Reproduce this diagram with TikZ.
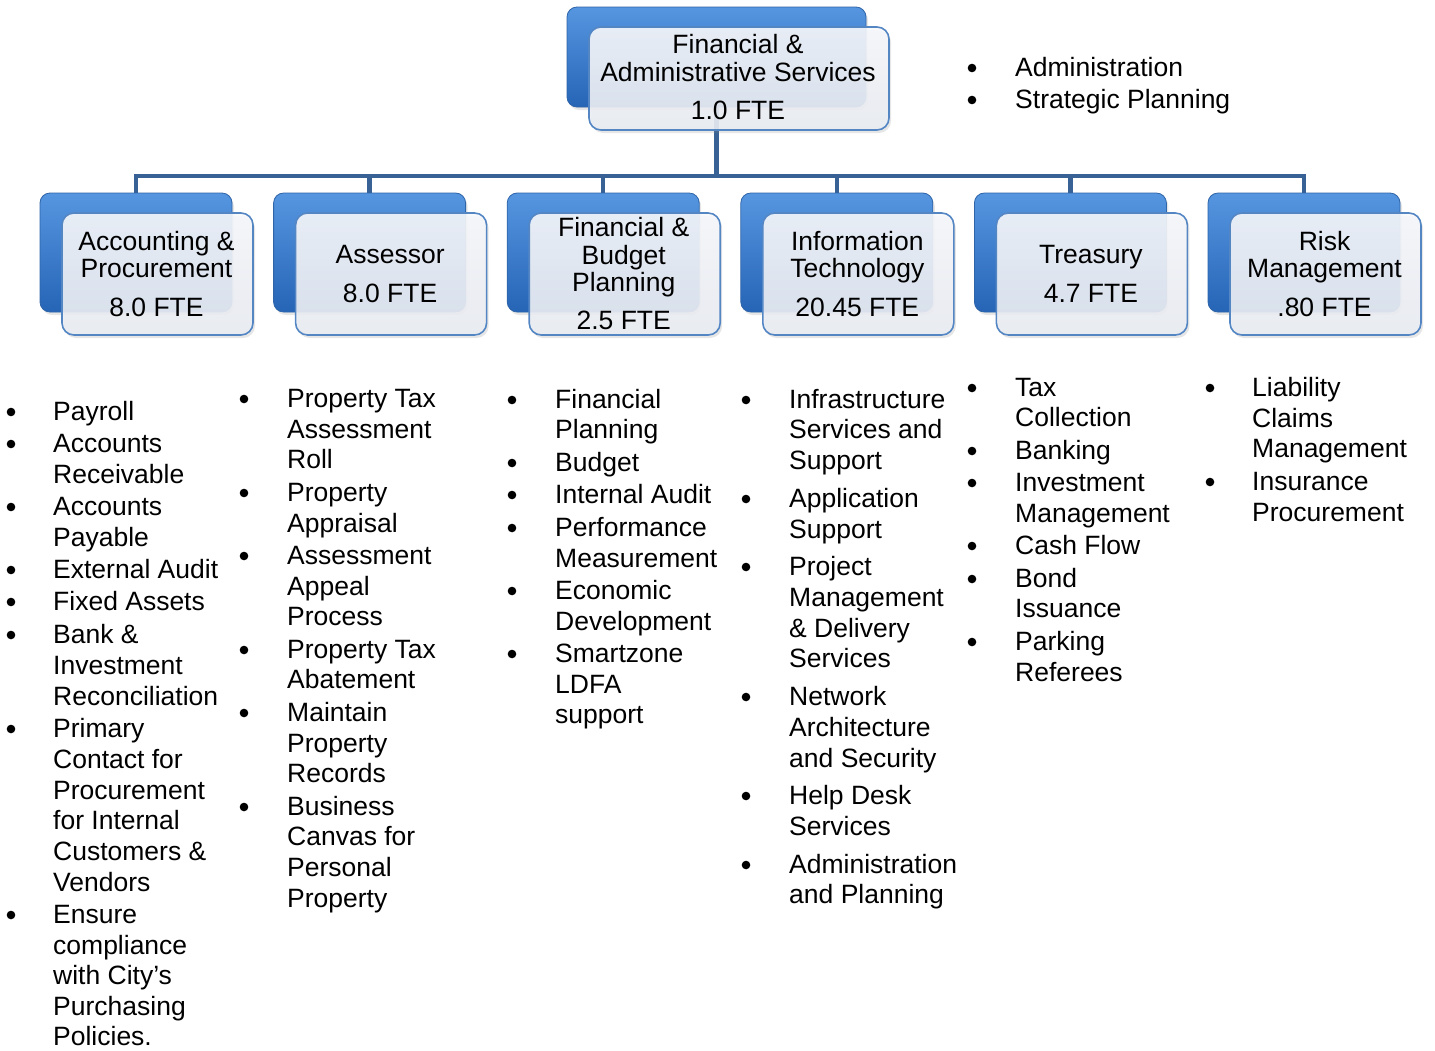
\documentclass[tikz,border=0pt]{standalone}
\usepackage{fontspec}
\setmainfont{Liberation Sans}
\usetikzlibrary{shadows,backgrounds}
\definecolor{conncol}{RGB}{56,98,150}
\definecolor{bluetop}{RGB}{86,150,224}
\definecolor{bluebot}{RGB}{38,100,182}
\definecolor{blueedge}{RGB}{46,100,168}
\definecolor{frontedge}{RGB}{84,134,196}
\definecolor{fronttop}{RGB}{247,248,251}
\definecolor{frontbot}{RGB}{233,236,242}
\newcommand{\orgunit}[2]{%
  \node[backbox,minimum width=192pt,minimum height=119pt] (b-#1) at (#2+96,252.5) {};
  \node[frontbox,minimum width=191pt,minimum height=122pt] (f-#1) at (#2+117.5,274) {};
}
\begin{document}
\begin{tikzpicture}[x=1pt,y=-1pt,
  conn/.style={draw=conncol,line width=4.5pt},
  backbox/.style={rectangle,rounded corners=10pt,inner sep=0pt,outer sep=0pt,
    top color=bluetop,bottom color=bluebot,draw=blueedge,line width=0.8pt,
    drop shadow={shadow xshift=2pt,shadow yshift=-3pt,opacity=0.2}},
  frontbox/.style={rectangle,rounded corners=12pt,inner sep=0pt,outer sep=0pt,
    top color=fronttop,bottom color=frontbot,fill opacity=0.9,draw=frontedge,draw opacity=1,line width=1.6pt,
    drop shadow={shadow xshift=2pt,shadow yshift=-3pt,opacity=0.2}},
  boxtxt/.style={anchor=base,inner sep=0pt,font=\fontsize{26.5}{27}\selectfont},
  li/.style={anchor=base west,inner sep=0pt,font=\fontsize{26.5}{31}\selectfont},
  bul/.style={fill=black},
]
\useasboundingbox (0,0) rectangle (1435,1050);

% top box
\node[backbox,minimum width=299pt,minimum height=100pt] (b-top) at (716.5,57) {};
\node[frontbox,minimum width=300pt,minimum height=103pt] (f-top) at (739,78.5) {};
\node[boxtxt] (t-top1) at (738,53.5) {Financial \&};
\node[boxtxt] (t-top2) at (738,81.5) {Administrative Services};
\node[boxtxt] (t-top3) at (738,119.5) {1.0 FTE};

% second row
\orgunit{acc}{40}
\orgunit{ass}{273.6}
\orgunit{fbp}{507.2}
\orgunit{it}{740.8}
\orgunit{tre}{974.4}
\orgunit{risk}{1208}

\node[boxtxt] (t-acc1) at (156.5,250.5) {Accounting \&};
\node[boxtxt] (t-acc2) at (156.5,277.5) {Procurement};
\node[boxtxt] (t-acc3) at (156.5,316.5) {8.0 FTE};

\node[boxtxt] (t-ass1) at (390.1,263.5) {Assessor};
\node[boxtxt] (t-ass2) at (390.1,302.5) {8.0 FTE};

\node[boxtxt] (t-fbp1) at (623.7,236.5) {Financial \&};
\node[boxtxt] (t-fbp2) at (623.7,264.5) {Budget};
\node[boxtxt] (t-fbp3) at (623.7,291.5) {Planning};
\node[boxtxt] (t-fbp4) at (623.7,329.5) {2.5 FTE};

\node[boxtxt] (t-it1) at (857.3,250.5) {Information};
\node[boxtxt] (t-it2) at (857.3,277.5) {Technology};
\node[boxtxt] (t-it3) at (857.3,316.5) {20.45 FTE};

\node[boxtxt] (t-tre1) at (1090.9,263.5) {Treasury};
\node[boxtxt] (t-tre2) at (1090.9,302.5) {4.7 FTE};

\node[boxtxt] (t-risk1) at (1324.5,250.5) {Risk};
\node[boxtxt] (t-risk2) at (1324.5,277.5) {Management};
\node[boxtxt] (t-risk3) at (1324.5,316.5) {.80 FTE};

% connectors
\coordinate (bar) at (0,176);
\begin{pgfonlayer}{background}
\foreach \n in {acc,ass,fbp,it,tre,risk}
  \draw[conn] (b-top.south) -- (b-top.south |- bar) -| (b-\n.north);
\end{pgfonlayer}

% top-right list
\foreach \y/\b/\t [count=\i] in {67/1/Administration, 99/1/Strategic Planning}{
  \node[li] (lt\i) at (1015,\y+9.5) {\t};
  \ifnum\b=1 \fill[bul] (972,\y+1) circle (4.3pt);\fi
}

% column 1
\foreach \y/\b/\t [count=\i] in {411/1/Payroll, 443/1/Accounts, 474/0/Receivable,
  506/1/Accounts, 537/0/Payable, 569/1/External Audit, 601/1/Fixed Assets,
  634/1/Bank \&, 665/0/Investment, 696/0/Reconciliation, 728/1/Primary,
  759/0/Contact for, 790/0/Procurement, 820/0/for Internal, 851/0/Customers \&,
  882/0/Vendors, 914/1/Ensure, 945/0/compliance, 975/0/with City’s,
  1006/0/Purchasing, 1036/0/Policies.}{
  \node[li] (la\i) at (53,\y+9.5) {\t};
  \ifnum\b=1 \fill[bul] (11,\y+1) circle (4.3pt);\fi
}

% column 2
\foreach \y/\b/\t [count=\i] in {398/1/Property Tax, 429/0/Assessment, 459/0/Roll,
  492/1/Property, 523/0/Appraisal, 555/1/Assessment, 586/0/Appeal, 616/0/Process,
  649/1/Property Tax, 679/0/Abatement, 712/1/Maintain, 743/0/Property,
  773/0/Records, 806/1/Business, 836/0/Canvas for, 867/0/Personal, 898/0/Property}{
  \node[li] (lb\i) at (287,\y+9.5) {\t};
  \ifnum\b=1 \fill[bul] (244,\y+1) circle (4.3pt);\fi
}

% column 3
\foreach \y/\b/\t [count=\i] in {399/1/Financial, 429/0/Planning, 462/1/Budget,
  494/1/Internal Audit, 527/1/Performance, 558/0/Measurement, 590/1/Economic,
  621/0/Development, 653/1/Smartzone, 684/0/LDFA, 714/0/support}{
  \node[li] (lc\i) at (555,\y+9.5) {\t};
  \ifnum\b=1 \fill[bul] (512,\y+1) circle (4.3pt);\fi
}

% column 4
\foreach \y/\b/\t [count=\i] in {399/1/Infrastructure, 429/0/Services and, 460/0/Support,
  498/1/Application, 529/0/Support, 566/1/Project, 597/0/Management,
  628/0/\& Delivery, 658/0/Services, 696/1/Network, 727/0/Architecture,
  758/0/and Security, 795/1/Help Desk, 826/0/Services, 864/1/Administration,
  894/0/and Planning}{
  \node[li] (ld\i) at (789,\y+9.5) {\t};
  \ifnum\b=1 \fill[bul] (746,\y+1) circle (4.3pt);\fi
}

% column 5
\foreach \y/\b/\t [count=\i] in {387/1/Tax, 417/0/Collection, 450/1/Banking,
  482/1/Investment, 513/0/Management, 545/1/Cash Flow, 578/1/Bond, 608/0/Issuance,
  641/1/Parking, 672/0/Referees}{
  \node[li] (le\i) at (1015,\y+9.5) {\t};
  \ifnum\b=1 \fill[bul] (972,\y+1) circle (4.3pt);\fi
}

% column 6
\foreach \y/\b/\t [count=\i] in {387/1/Liability, 418/0/Claims, 448/0/Management,
  481/1/Insurance, 512/0/Procurement}{
  \node[li] (lf\i) at (1252,\y+9.5) {\t};
  \ifnum\b=1 \fill[bul] (1210,\y+1) circle (4.3pt);\fi
}
\end{tikzpicture}
\end{document}
